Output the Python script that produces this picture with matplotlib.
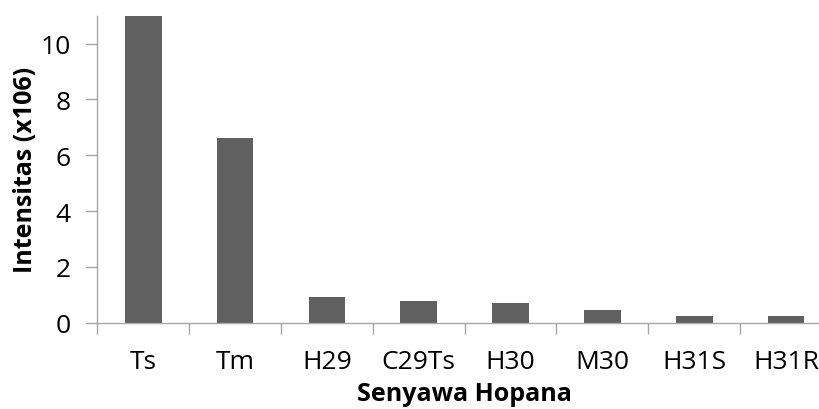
import matplotlib
matplotlib.use("Agg")
import matplotlib.pyplot as plt
import numpy as np

categories = ["Ts", "Tm", "H29", "C29Ts", "H30", "M30", "H31S", "H31R"]
values = [11.4, 6.63, 0.93, 0.79, 0.71, 0.46, 0.24, 0.23]
yticks = [0, 2, 4, 6, 8, 10]

plt.rcParams['font.family'] = ['Open Sans', 'DejaVu Sans']

fig = plt.figure(figsize=(8.19, 4.10), dpi=100)
ax = fig.add_axes([97.3 / 819, (410 - 323.7) / 410, (832 - 97.3) / 819, (323.7 - 16.7) / 410])

x = np.arange(len(categories))
ax.bar(x, values, width=0.4, color='#606060', zorder=2)

ax.set_xlim(-0.5, len(categories) - 0.5)
ax.set_ylim(0, 11)

spine_col = '#a6a6a6'
for s in ['top', 'right']:
    ax.spines[s].set_visible(False)
for s in ['left', 'bottom']:
    ax.spines[s].set_color(spine_col)
    ax.spines[s].set_linewidth(1.0)

ax.set_yticks(yticks)
ax.set_yticklabels([str(v) for v in yticks])
ax.tick_params(axis='y', direction='out', length=9, width=1, color=spine_col,
               labelsize=19, pad=10, labelcolor='black')

ax.set_xticks(x)
ax.set_xticklabels(categories)
ax.set_xticks(np.arange(-0.5, len(categories) + 0.5, 1), minor=True)
ax.tick_params(axis='x', which='major', length=0, labelsize=19, pad=19, labelcolor='black')
ax.tick_params(axis='x', which='minor', direction='out', length=8, width=1, color=spine_col)

ax.set_xlabel("Senyawa Hopana", fontsize=18, fontweight='bold')
ax.set_ylabel("Intensitas (x106)", fontsize=18, fontweight='bold')
ax.xaxis.set_label_coords(0.5, (323.7 - 382) / 307.0)
ax.yaxis.set_label_coords((38 - 97.3) / 734.7, 0.5)

fig.savefig("out.png", dpi=100)
